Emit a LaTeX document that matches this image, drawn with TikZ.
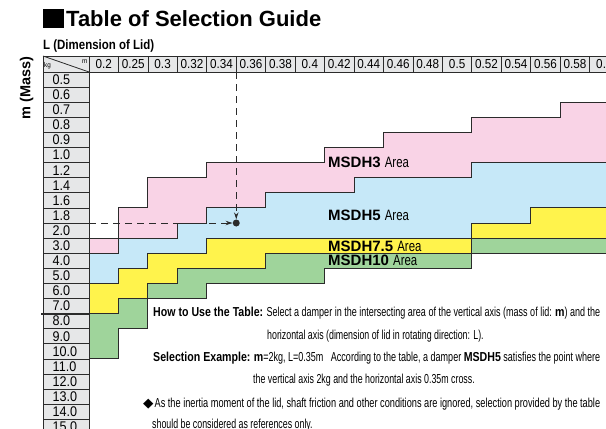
\documentclass[tikz,border=0pt]{standalone}
\usepackage{fontspec}
\usepackage{graphicx}
\usetikzlibrary{arrows.meta}
\setmainfont{Liberation Sans}
\newfontfamily\fHead{Liberation Sans}
\newfontfamily\fLid[FakeStretch=0.85]{Liberation Sans}
\newfontfamily\fNum[FakeStretch=0.9]{Liberation Sans}
\newfontfamily\fArea[FakeStretch=0.76]{Liberation Sans}
\newfontfamily\fBody[FakeStretch=0.68]{Liberation Sans}
\newfontfamily\fBodyB[FakeStretch=0.8]{Liberation Sans}
\newfontfamily\fSym{DejaVu Sans}
\definecolor{cpink}{HTML}{F9D3E6}
\definecolor{cblue}{HTML}{C6E8F8}
\definecolor{cyellow}{HTML}{FFF34C}
\definecolor{cgreen}{HTML}{9FD49B}
\definecolor{cgray}{HTML}{E6E7E8}
\definecolor{cline}{HTML}{2B2B2B}
\newcommand{\bb}[1]{{\fBodyB\bfseries #1}}
\begin{document}
\begin{tikzpicture}[x=1pt,y=-1pt,
  bnd/.style={draw=cline, line width=0.9pt},
  gline/.style={draw=cline, line width=0.8pt},
  hnum/.style={inner sep=0, font=\fNum\fontsize{13}{13}\selectfont},
  rnum/.style={inner sep=0, anchor=west, font=\fNum\fontsize{14}{14}\selectfont},
  arealbl/.style={inner sep=0, anchor=base west, font=\fHead\fontsize{15}{15}\selectfont},
  body/.style={inner sep=0, anchor=base west, font=\fBody\fontsize{13}{13}\selectfont},
  dashln/.style={draw=cline, line width=0.9pt, dash pattern=on 7pt off 5pt, -{Stealth[length=7pt,width=4.5pt]}},
]
\useasboundingbox (0,0) rectangle (606,429);
\clip (0,0) rectangle (606,429);

% title
\node (sq) [fill=black, inner sep=0, minimum width=21pt, minimum height=19pt, anchor=north west] at (43,9) {};
\node (title) [inner sep=0, anchor=base west, font=\fHead\bfseries\fontsize{22}{22}\selectfont] at (66,26.7) {Table of Selection Guide};
\node (lid) [inner sep=0, anchor=base west, font=\fLid\bfseries\fontsize{13.5}{13.5}\selectfont] at (43,49.5) {L (Dimension of Lid)};
\node (mass) [inner sep=0, anchor=base, rotate=90, font=\fHead\bfseries\fontsize{14.5}{14.5}\selectfont] at (30.5,88) {m (Mass)};

% coloured areas
\begin{scope}[xshift=89pt, yshift=-72pt, x=29.45pt, y=-15.1pt]
\filldraw[bnd, fill=cpink] (0,11) -| (1,9) -| (2,7) -| (4,6) -| (8,5) -| (10,4) -| (13,3) -| (16,2) -| (18,6)
  -| (13,7) -| (9,8) -| (6,9) -| (4,10) -| (3,11) -| (1,12) -| (0,11) -- cycle;
\filldraw[bnd, fill=cblue] (0,12) -| (1,11) -| (3,10) -| (4,9) -| (6,8) -| (9,7) -| (13,6) -| (18,9)
  -| (15,10) -| (13,11) -| (4,12) -| (2,13) -| (1,14) -| (0,12) -- cycle;
\filldraw[bnd, fill=cyellow] (0,14) -| (1,13) -| (2,12) -| (4,11) -| (13,10) -| (15,9) -| (18,11)
  -| (13,12) -| (6,13) -| (3,14) -| (2,15) -| (1,16) -| (0,14) -- cycle;
\filldraw[bnd, fill=cgreen] (0,16) -| (1,15) -| (2,14) -| (3,13) -| (6,12) -| (13,11) -| (18,12)
  -| (13,13) -| (8,14) -| (4,15) -| (2,17) -| (1,19) -| (0,16) -- cycle;
\end{scope}

% header row
\fill[cgray] (43,56) rectangle (620,72);
\draw[gline] (43,56) -- (620,56);
\draw[gline] (43,72) -- (620,72);
\foreach \c in {0,...,18} \draw[gline] ({89+29.45*\c},56) -- ({89+29.45*\c},72);
\foreach \t [count=\i from 0] in {0.2,0.25,0.3,0.32,0.34,0.36,0.38,0.4,0.42,0.44,0.46,0.48,0.5,0.52,0.54,0.56,0.58,0.6}
  \node[hnum] (h\i) at ({89+29.45*(\i+0.5)},64.3) {\t};
\draw[gline] (43,56) -- (89,72);
\node (kg) [inner sep=0, anchor=base west, font=\fNum\fontsize{7}{7}\selectfont] at (44,67.5) {kg};
\node (mm) [inner sep=0, anchor=base east, font=\fNum\fontsize{7}{7}\selectfont] at (87.5,63) {m};

% row label column
\fill[cgray] (43,72) rectangle (89,440);
\foreach \r in {0,...,24} \draw[gline] (43,{72+15.1*\r}) -- (89,{72+15.1*\r});
\draw[gline] (43,56) -- (43,440);
\draw[gline] (89,56) -- (89,440);
\draw[draw=cline, line width=1.8pt] (41,313.6) -- (89,313.6);
\foreach \t [count=\i from 0] in {0.5,0.6,0.7,0.8,0.9,1.0,1.2,1.4,1.6,1.8,2.0,3.0,4.0,5.0,6.0,7.0,8.0,9.0,10.0,11.0,12.0,13.0,14.0,15.0}
  \node[rnum] (r\i) at (52.5,{72+15.1*(\i+0.5)}) {\t};

% selection example
\node (dot) [circle, fill=cline, inner sep=0, minimum size=7pt] at (236.25,223) {};
\coordinate (vtop) at (236.25,72);
\coordinate (hleft) at (89,223);
\draw[dashln] (vtop) -- (dot);
\draw[dashln] (hleft) -- (dot);

% area labels
\node (a3) [arealbl] at (328,167.2) {\textbf{MSDH3} {\fArea Area}};
\node (a5) [arealbl] at (328,220.5) {\textbf{MSDH5} {\fArea Area}};
\node (a75) [arealbl] at (328,251) {\textbf{MSDH7.5} {\fArea Area}};
\node (a10) [arealbl] at (328,265.6) {\textbf{MSDH10} {\fArea Area}};

% explanatory text
\node (t1) [body] at (153,316.5) {\resizebox{447pt}{\height}{\bb{How to Use the Table:} Select a damper in the intersecting area of the vertical axis (mass of lid: \bb{m}) and the}};
\node (t2) [body] at (267,339) {horizontal axis (dimension of lid in rotating direction: L).};
\node (t3) [body] at (153,361) {\resizebox{447pt}{\height}{\bb{Selection Example:} \bb{m}=2kg, L=0.35m\ \ \ According to the table, a damper \bb{MSDH5} satisfies the point where}};
\node (t4) [body] at (253,383.5) {the vertical axis 2kg and the horizontal axis 0.35m cross.};
\node (t5) [body] at (143,407) {\resizebox{457pt}{\height}{{\fSym ◆}\hspace{1pt}As the inertia moment of the lid, shaft friction and other conditions are ignored, selection provided by the table}};
\node (t6) [body] at (152,428.5) {should be considered as references only.};
\end{tikzpicture}
\end{document}
